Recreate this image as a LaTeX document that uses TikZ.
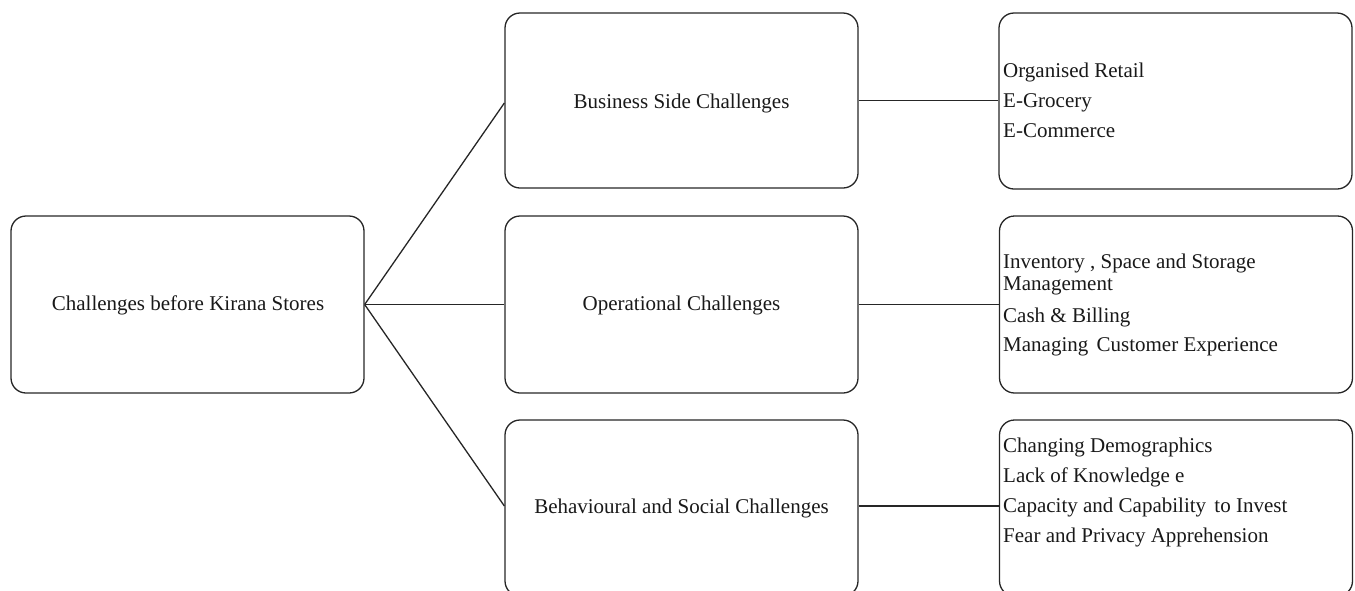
\documentclass[tikz,border=0pt]{standalone}
\usepackage{fontspec}
\setmainfont{Liberation Serif}
\begin{document}
\begin{tikzpicture}[x=1pt,y=-1pt,
  box/.style={draw=black!85, line width=1.3pt, rounded corners=15pt,
    minimum width=353pt, inner sep=0pt},
  item/.style={anchor=base west, inner sep=0pt, text=black!90,
    font=\fontsize{21}{30}\selectfont},
  link/.style={draw=black!85, line width=1.3pt}]
\useasboundingbox (0,0) rectangle (1355,590);
\clip (0,0) rectangle (1355,590);

% root
\node[box, minimum height=177pt] (root) at (187.5,304.5) {};
\node[item, anchor=base] (rootT) at (188,310) {Challenges before Kirana Stores};

% categories
\node[box, minimum height=175pt] (bus) at (681.5,100.5) {};
\node[item, anchor=base] (busT) at (681.5,108) {Business Side Challenges};
\node[box, minimum height=177pt] (ops) at (681.5,304.5) {};
\node[item, anchor=base] (opsT) at (681.5,310) {Operational Challenges};
\node[box, minimum height=176pt] (beh) at (681.5,508) {};
\node[item, anchor=base] (behT) at (681.5,513) {Behavioural and Social Challenges};

% details
\node[box, minimum height=176pt] (busD) at (1175.5,101) {};
\node[item] (b1) at (1003,77) {Organised Retail};
\node[item] (b2) at (1003,107) {E-Grocery};
\node[item] (b3) at (1003,137) {E-Commerce};

\node[box, minimum height=177pt] (opsD) at (1176,304.5) {};
\node[item] (o1) at (1003,268) {Inventory , Space and Storage};
\node[item] (o2) at (1003,290) {Management};
\node[item] (o3) at (1003,322) {Cash \& Billing};
\node[item] (o4) at (1003,351) {Managing\hspace{3pt} Customer Experience};

\node[box, minimum height=176pt] (behD) at (1176,508) {};
\node[item] (h1) at (1003,452) {Changing Demographics};
\node[item] (h2) at (1003,482) {Lack of Knowledge e};
\node[item] (h3) at (1003,512) {Capacity and Capability\hspace{3pt} to Invest};
\node[item] (h4) at (1003,542) {Fear and Privacy Apprehension};

% connectors
\draw[link] (root.east) -- (bus.west |- 0,103);
\draw[link] (root.east) -- (ops.west);
\draw[link] (root.east) -- (beh.west |- 0,506);
\draw[link] (bus.east) -- (bus.east -| busD.west);
\draw[link] (ops.east) -- (ops.east -| opsD.west);
\draw[link] (beh.east |- 0,506) -- (behD.west |- 0,506);
\end{tikzpicture}
\end{document}
